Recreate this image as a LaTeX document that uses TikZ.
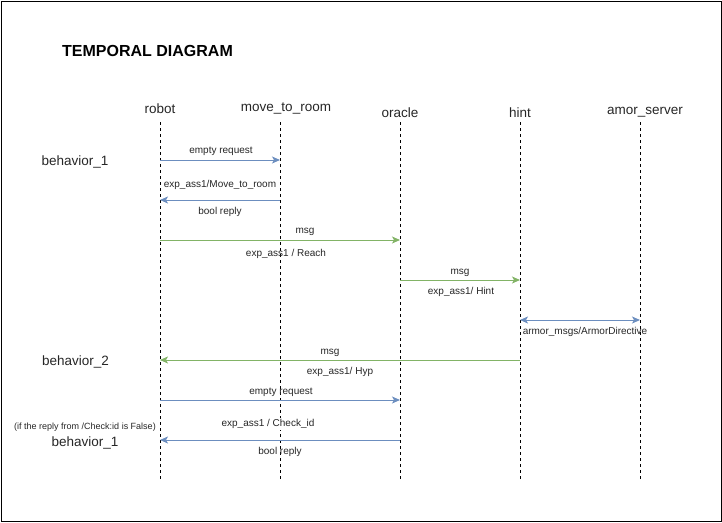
\documentclass[tikz,border=0pt]{standalone}
\usepackage{fontspec}
\setmainfont{Liberation Sans}
\usetikzlibrary{arrows.meta}
\definecolor{blu}{HTML}{6C8EBF}
\definecolor{grn}{HTML}{82B366}
\begin{document}
\begin{tikzpicture}[x=1pt,y=-1pt,
  life/.style={draw=black,line width=0.9pt,dash pattern=on 3pt off 3pt},
  tip/.style={Stealth[length=8pt,width=7pt,inset=2pt]},
  msgb/.style={draw=blu,line width=1pt,-{Stealth[length=8pt,width=7pt,inset=2pt]}},
  msgbb/.style={draw=blu,line width=1pt,{Stealth[length=8pt,width=7pt,inset=2pt]}-{Stealth[length=8pt,width=7pt,inset=2pt]}},
  msgg/.style={draw=grn,line width=1pt,-{Stealth[length=8pt,width=7pt,inset=2pt]}},
  lbl/.style={font=\fontsize{10}{12}\selectfont,text=black!85,inner sep=1pt},
  actor/.style={font=\fontsize{13.5}{16}\selectfont,text=black!85,inner sep=0pt},
  beh/.style={font=\fontsize{13.5}{16}\selectfont,text=black!85,inner sep=0pt},
  note/.style={font=\fontsize{9}{11}\selectfont,text=black!85,inner sep=0pt}]
\useasboundingbox (0,0) rectangle (722,522);
\draw[line width=1pt] (1,1) rectangle (721,521);
\node[font=\bfseries\fontsize{16}{19}\selectfont,inner sep=0pt,anchor=west] (title) at (62,51) {TEMPORAL DIAGRAM};
% actors
\node[actor] (robot) at (160,108.5) {robot};
\node[actor] (mtr) at (286,108.5) {move\_to\_room};
\node[actor] (oracle) at (400,112.5) {oracle};
\node[actor] (hint) at (520,112.5) {hint};
\node[actor] (amor) at (645,112.5) {amor\_server};
% lifelines
\foreach \n/\x in {r/160,m/280,o/400,h/520,a/640}{
  \coordinate (\n top) at (\x,122);
  \coordinate (\n bot) at (\x,481);
  \draw[life] (\n top) -- (\n bot);
}
% coordinates on lifelines
\coordinate (r160) at (160,160); \coordinate (m160) at (280,160);
\coordinate (r200) at (160,200); \coordinate (m200) at (280,200);
\coordinate (r240) at (160,240); \coordinate (o240) at (400,240);
\coordinate (o280) at (400,280); \coordinate (h280) at (520,280);
\coordinate (h320) at (520,320); \coordinate (a320) at (640,320);
\coordinate (h360) at (520,360); \coordinate (r360) at (160,360);
\coordinate (r400) at (160,400); \coordinate (o400) at (400,400);
\coordinate (o440) at (400,440); \coordinate (r440) at (160,440);
% messages
\draw[msgb] (r160) -- (m160);
\node[lbl] (l1) at (221,151.5) {empty request};
\node[lbl] (l2) at (220,184.5) {exp\_ass1/Move\_to\_room};
\draw[msgb] (m200) -- (r200);
\node[lbl] (l3) at (220,212) {bool reply};
\draw[msgg] (r240) -- (o240);
\node[lbl] (l4) at (305,232) {msg};
\node[lbl] (l5) at (286,254) {exp\_ass1 / Reach};
\draw[msgg] (o280) -- (h280);
\node[lbl] (l6) at (460,272.5) {msg};
\node[lbl] (l7) at (461,292) {exp\_ass1/ Hint};
\draw[msgbb] (h320) -- (a320);
\node[lbl] (l8) at (585,331.5) {armor\_msgs/ArmorDirective};
\draw[msgg] (h360) -- (r360);
\node[lbl] (l9) at (330,352.5) {msg};
\node[lbl] (l10) at (340,372) {exp\_ass1/ Hyp};
\draw[msgb] (r400) -- (o400);
\node[lbl] (l11) at (281,392) {empty request};
\node[lbl,fill=white] (l12) at (268,424) {exp\_ass1 / Check\_id};
\draw[msgb] (o440) -- (r440);
\node[lbl] (l13) at (280,452) {bool reply};
% behaviors
\node[beh] (b1) at (75,162) {behavior\_1};
\node[beh] (b2) at (75.5,362) {behavior\_2};
\node[note] (n1) at (85,427) {(if the reply from /Check:id is False)};
\node[beh] (b3) at (85,443) {behavior\_1};
\end{tikzpicture}
\end{document}
